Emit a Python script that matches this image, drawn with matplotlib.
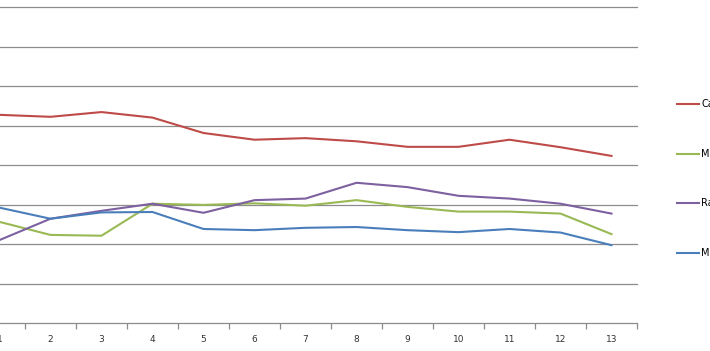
import numpy as np
import matplotlib.pyplot as plt

# Data (in gridline units)
categories = list(range(1, 14))
labels = ['Ca', 'M', 'Ra', 'M']
red = [5.27, 5.22, 5.34, 5.20, 4.81, 4.64, 4.68, 4.60, 4.46, 4.46, 4.64, 4.45, 4.23]
green = [2.56, 2.23, 2.21, 3.02, 2.99, 3.03, 2.97, 3.11, 2.94, 2.82, 2.82, 2.77, 2.25]
purple = [2.10, 2.64, 2.84, 3.02, 2.79, 3.11, 3.15, 3.55, 3.44, 3.22, 3.15, 3.02, 2.77]
blue = [2.92, 2.64, 2.80, 2.81, 2.38, 2.35, 2.41, 2.43, 2.35, 2.30, 2.38, 2.29, 1.97]
colors = ['#BE4B48', '#98B954', '#7D60A0', '#4A7EBB']

fig = plt.figure(figsize=(7.1, 3.51), dpi=100)
W, H = 710, 351
ax = fig.add_axes([-26 / W, 28 / H, 663 / W, 316 / H])

for yv in range(1, 9):
    ax.axhline(yv, color='#8c8c8c', lw=0.9, clip_on=False, zorder=1)

series = [red, green, purple, blue]
for s, c, lab in zip(series, colors, labels):
    ax.plot(categories, s, color=c, lw=1.5, label=lab, zorder=3)

ax.set_xlim(0.5, 13.5)
ax.set_ylim(0, 8)
for sp in ['top', 'right', 'left']:
    ax.spines[sp].set_visible(False)
ax.spines['bottom'].set_color('#8c8c8c')
ax.spines['bottom'].set_linewidth(0.9)
ax.set_yticks([])
ax.set_xticks(categories)
ax.set_xticklabels([str(c) for c in categories], fontsize=6.5, color='#333333')
ax.tick_params(axis='x', which='major', length=0, pad=9)
ax.set_xticks(np.arange(0.5, 14, 1), minor=True)
ax.tick_params(axis='x', which='minor', length=4, color='#8c8c8c', width=0.9)

# legend drawn by hand on the right side
ys = [104, 154, 203, 253]
for yp, c, lab in zip(ys, colors, labels):
    yf = 1 - yp / H
    fig.add_artist(plt.Line2D([677 / W, 699 / W], [yf, yf], color=c, lw=1.5))
    fig.text(701 / W, yf, lab, fontsize=7, va='center', ha='left', color='#000000')

fig.savefig('out.png', dpi=100)
